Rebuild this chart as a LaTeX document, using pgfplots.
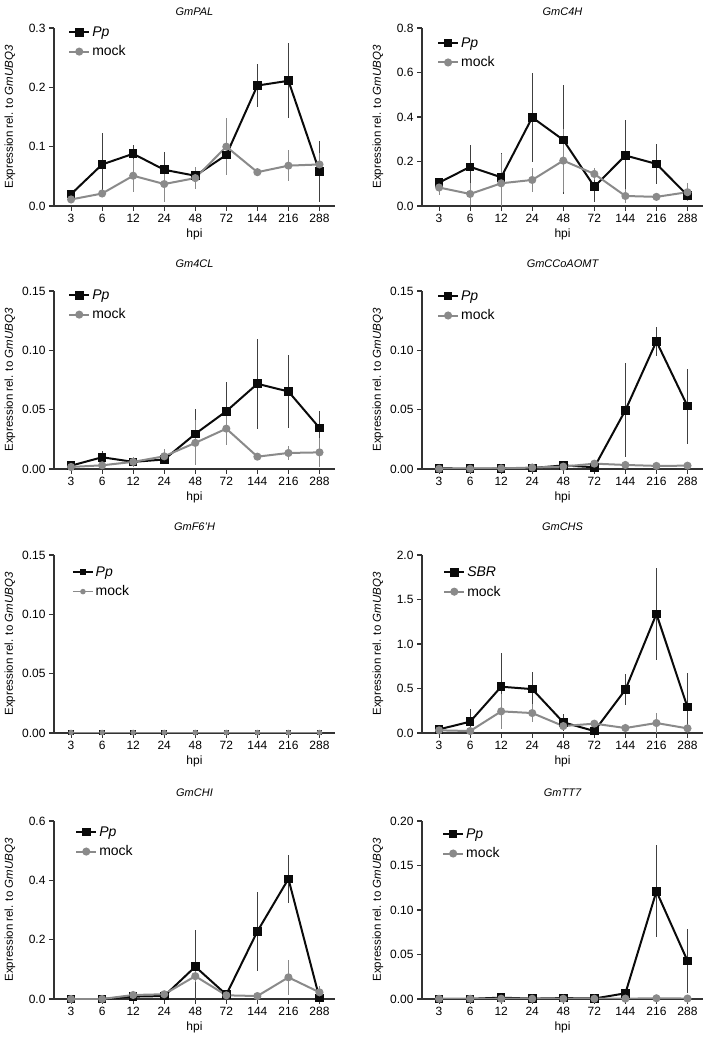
\documentclass[border=0pt]{standalone}
\usepackage{pgfplots}
\usepackage{pgfplotstable}
\pgfplotsset{compat=1.18}
\usepackage{fontspec}
\setmainfont{Liberation Sans}
\definecolor{mockgray}{HTML}{8A8A8A}
\definecolor{ppblack}{HTML}{0A0A0A}

\pgfplotstableread{
x pp ppe mk mke
0 0.020 0.003 0.011 0.003
1 0.070 0.053 0.021 0.005
2 0.088 0.015 0.051 0.028
3 0.061 0.030 0.037 0.030
4 0.051 0.015 0.047 0.019
5 0.086 0.033 0.100 0.048
6 0.203 0.036 0.057 0.004
7 0.211 0.063 0.068 0.026
8 0.058 0.051 0.070 0.020
}\tabPAL
\pgfplotstableread{
x pp ppe mk mke
0 0.105 0.018 0.083 0.035
1 0.176 0.100 0.054 0.050
2 0.129 0.107 0.102 0.130
3 0.398 0.200 0.117 0.055
4 0.297 0.245 0.204 0.140
5 0.087 0.070 0.144 0.025
6 0.227 0.160 0.045 0.030
7 0.189 0.090 0.041 0.010
8 0.048 0.020 0.062 0.040
}\tabCFH
\pgfplotstableread{
x pp ppe mk mke
0 0.0028 0.001 0.0017 0.001
1 0.0099 0.005 0.0031 0.002
2 0.0060 0.003 0.0060 0.004
3 0.0080 0.003 0.0107 0.006
4 0.0296 0.021 0.0220 0.019
5 0.0487 0.025 0.0340 0.014
6 0.0718 0.038 0.0104 0.003
7 0.0653 0.031 0.0135 0.006
8 0.0346 0.0145 0.0140 0.012
}\tabFCL
\pgfplotstableread{
x pp ppe mk mke
0 0.0005 0.0002 0.0002 0.0002
1 0.0003 0.0002 0.0002 0.0002
2 0.0004 0.0002 0.0005 0.0002
3 0.0008 0.0003 0.0012 0.0005
4 0.0030 0.0005 0.0020 0.0005
5 0.0015 0.0010 0.0045 0.0020
6 0.0495 0.0397 0.0034 0.0010
7 0.1075 0.0125 0.0026 0.0005
8 0.0530 0.0316 0.0028 0.0005
}\tabCCO
\pgfplotstableread{
x pp ppe mk mke
0 0.0003 0 0.0004 0
1 0.0003 0 0.0004 0
2 0.0003 0 0.0004 0
3 0.0003 0 0.0004 0
4 0.0003 0 0.0004 0
5 0.0003 0 0.0004 0
6 0.0003 0 0.0004 0
7 0.0003 0 0.0004 0
8 0.0003 0 0.0004 0
}\tabFSH
\pgfplotstableread{
x pp ppe mk mke
0 0.041 0.020 0.030 0.030
1 0.127 0.138 0.022 0.010
2 0.520 0.377 0.243 0.200
3 0.493 0.187 0.224 0.100
4 0.120 0.097 0.078 0.030
5 0.022 0.010 0.105 0.040
6 0.486 0.172 0.056 0.010
7 1.338 0.516 0.112 0.110
8 0.290 0.387 0.052 0.020
}\tabCHS
\pgfplotstableread{
x pp ppe mk mke
0 0.000 0.000 0.000 0.000
1 0.000 0.000 0.000 0.000
2 0.008 0.005 0.0135 0.010
3 0.010 0.005 0.016 0.010
4 0.109 0.123 0.077 0.020
5 0.0147 0.005 0.0124 0.005
6 0.228 0.134 0.010 0.005
7 0.405 0.082 0.073 0.059
8 0.003 0.005 0.0225 0.020
}\tabCHI
\pgfplotstableread{
x pp ppe mk mke
0 0.0002 0 0.0002 0
1 0.0002 0 0.0002 0
2 0.0015 0.0005 0.0003 0
3 0.0004 0 0.0003 0
4 0.0010 0.0005 0.0003 0
5 0.0005 0.0003 0.0003 0
6 0.0064 0.002 0.0004 0
7 0.1210 0.0516 0.0008 0.0003
8 0.0429 0.0357 0.0005 0.0002
}\tabTTS

\pgfplotsset{
  prism/.style={
    width=281pt, height=178pt, scale only axis,
    axis lines*=left,
    xmin=-0.55, xmax=8.5, ymin=0,
    xtick={0,...,8},
    xticklabels={3,6,12,24,48,72,144,216,288},
    tick align=outside,
    major tick length=5pt,
    axis line style={line width=1.1pt, color=black!80},
    tick style={line width=1.1pt, color=black!80},
    /pgf/number format/assume math mode=true,
    /pgf/number format/fixed,
    /pgf/number format/fixed zerofill,
    ticklabel style={font=\fontsize{12}{14}\selectfont},
    xlabel={hpi},
    ylabel={Expression rel. to \textit{GmUBQ3}},
    every axis x label/.style={at={(axis description cs:0.5,-0.16)}, anchor=center, font=\fontsize{12}{14}\selectfont},
    every axis y label/.style={at={(axis description cs:-0.157,0.5)}, rotate=90, anchor=center, font=\fontsize{11.5}{13}\selectfont},
    title style={anchor=center, font=\fontsize{11}{13}\selectfont\itshape},
    legend style={draw=none, fill=none, anchor=west, inner sep=0pt, row sep=4pt,
      font=\fontsize{14}{16}\selectfont, cells={anchor=west}},
    legend image code/.code={\draw[mark repeat=2,mark phase=2] plot coordinates {(0pt,0pt)(10pt,0pt)(20pt,0pt)};},
    clip marker paths=false,
  },
  ppline/.style={color=ppblack, line width=2pt, mark=square*, mark size=3.3pt,
    mark options={solid},
    error bars/y dir=both, error bars/y explicit, error bars/error mark=none,
    error bars/error bar style={line width=0.9pt, color=black!75}},
  mkline/.style={color=mockgray, line width=2pt, mark=*, mark size=3pt,
    mark options={solid},
    error bars/y dir=both, error bars/y explicit, error bars/error mark=none,
    error bars/error bar style={line width=0.9pt, color=mockgray}},
  prec1/.style={/pgf/number format/precision=1},
  prec2/.style={/pgf/number format/precision=2},
}

\begin{document}
\begin{tikzpicture}
\path[use as bounding box] (0pt,0pt) rectangle (709pt,1038pt);

% Row 1
\begin{axis}[prism, at={(54pt,832pt)}, anchor=south west, ymax=0.3, ytick={0,0.1,0.2,0.3}, prec1,
  title={GmPAL}, title style={at={(axis description cs:0.5,1.056)}},
  legend style={at={(axis description cs:0.050,0.921)}}]
\addplot[ppline] table[x=x,y=pp,y error=ppe]{\tabPAL};
\addplot[mkline] table[x=x,y=mk,y error=mke]{\tabPAL};
\legend{\textit{Pp},mock}
\end{axis}

\begin{axis}[prism, at={(422pt,832pt)}, anchor=south west, ymax=0.8, ytick={0,0.2,0.4,0.6,0.8}, prec1,
  title={GmC4H}, title style={at={(axis description cs:0.5,1.056)}},
  legend style={at={(axis description cs:0.053,0.860)}}]
\addplot[ppline] table[x=x,y=pp,y error=ppe]{\tabCFH};
\addplot[mkline] table[x=x,y=mk,y error=mke]{\tabCFH};
\legend{\textit{Pp},mock}
\end{axis}

% Row 2
\begin{axis}[prism, at={(54pt,569pt)}, anchor=south west, ymax=0.15, ytick={0,0.05,0.10,0.15}, prec2,
  title={Gm4CL}, title style={at={(axis description cs:0.5,1.118)}},
  legend style={at={(axis description cs:0.050,0.921)}}]
\addplot[ppline] table[x=x,y=pp,y error=ppe]{\tabFCL};
\addplot[mkline] table[x=x,y=mk,y error=mke]{\tabFCL};
\legend{\textit{Pp},mock}
\end{axis}

\begin{axis}[prism, at={(422pt,569pt)}, anchor=south west, ymax=0.15, ytick={0,0.05,0.10,0.15}, prec2,
  title={GmCCoAOMT}, title style={at={(axis description cs:0.5,1.118)}},
  legend style={at={(axis description cs:0.053,0.916)}}]
\addplot[ppline] table[x=x,y=pp,y error=ppe]{\tabCCO};
\addplot[mkline] table[x=x,y=mk,y error=mke]{\tabCCO};
\legend{\textit{Pp},mock}
\end{axis}

% Row 3
\begin{axis}[prism, at={(54pt,305pt)}, anchor=south west, ymax=0.15, ytick={0,0.05,0.10,0.15}, prec2,
  title={GmF6'H}, title style={at={(axis description cs:0.5,1.124)}},
  legend style={at={(axis description cs:0.064,0.848)}}]
\addplot[ppline, line width=1.5pt, mark size=2pt] table[x=x,y=pp,y error=ppe]{\tabFSH};
\addplot[mkline, line width=1.5pt, mark size=2pt] table[x=x,y=mk,y error=mke]{\tabFSH};
\legend{\textit{Pp},mock}
\end{axis}

\begin{axis}[prism, at={(422pt,305pt)}, anchor=south west, ymax=2.0, ytick={0,0.5,1.0,1.5,2.0}, prec1,
  title={GmCHS}, title style={at={(axis description cs:0.5,1.124)}},
  legend style={at={(axis description cs:0.075,0.848)}}]
\addplot[ppline] table[x=x,y=pp,y error=ppe]{\tabCHS};
\addplot[mkline] table[x=x,y=mk,y error=mke]{\tabCHS};
\legend{\textit{SBR},mock}
\end{axis}

% Row 4
\begin{axis}[prism, at={(54pt,39pt)}, anchor=south west, ymax=0.6, ytick={0,0.2,0.4,0.6}, prec1,
  title={GmCHI}, title style={at={(axis description cs:0.5,1.124)}},
  legend style={at={(axis description cs:0.075,0.882)}}]
\addplot[ppline] table[x=x,y=pp,y error=ppe]{\tabCHI};
\addplot[mkline] table[x=x,y=mk,y error=mke]{\tabCHI};
\legend{\textit{Pp},mock}
\end{axis}

\begin{axis}[prism, at={(422pt,39pt)}, anchor=south west, ymax=0.20, ytick={0,0.05,0.10,0.15,0.20}, prec2,
  title={GmTT7}, title style={at={(axis description cs:0.5,1.124)}},
  legend style={at={(axis description cs:0.071,0.871)}}]
\addplot[ppline] table[x=x,y=pp,y error=ppe]{\tabTTS};
\addplot[mkline] table[x=x,y=mk,y error=mke]{\tabTTS};
\legend{\textit{Pp},mock}
\end{axis}

\end{tikzpicture}
\end{document}
